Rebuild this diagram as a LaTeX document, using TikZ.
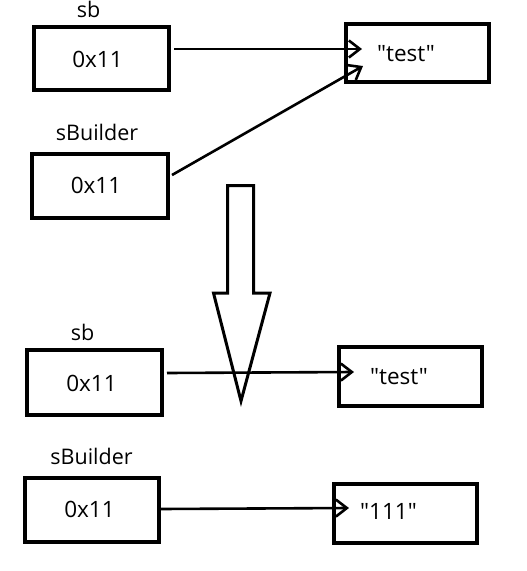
\documentclass[tikz,border=0pt]{standalone}
\usepackage{fontspec}
\setmainfont{Open Sans}[Ligatures=TeXOff]
\usetikzlibrary{arrows.meta,calc}
\begin{document}
\begin{tikzpicture}[x=1pt,y=-1pt,
  box/.style={draw,line width=4pt,inner sep=0pt,outer sep=0pt},
  txt/.style={inner sep=0pt,anchor=base,font=\fontsize{22.5}{27}\selectfont},
  lbl/.style={inner sep=0pt,anchor=base,font=\fontsize{21.5}{26}\selectfont},
  ptr/.style={line width=2.6pt,-{Straight Barb[length=11pt,width=17pt,line width=2.6pt]}},
  bigarrow/.style={draw,line width=3pt,line join=miter}]
\useasboundingbox (0,0) rectangle (527,571);
% top half
\node[box,minimum width=135pt,minimum height=63pt] (a1) at (101.5,58.5) {};
\node[box,minimum width=143pt,minimum height=58pt] (t1) at (417.5,53) {};
\node[box,minimum width=136pt,minimum height=64pt] (b1) at (100,186) {};
\node[lbl] (la1) at (88.5,17) {sb};
\node[lbl] (lb1) at (97,140) {sBuilder};
\node[txt] (xa1) at (97.5,67) {0x11};
\node[txt] (xb1) at (96,193) {0x11};
\node[txt] (xt1) at (406,61) {"test"};
\draw[ptr] ($(a1.east)+(5,-9.5)$) -- ($(t1.west)+(16,-4)$);
\draw[ptr] ($(b1.east)+(4,-11)$) -- ($(t1.west)+(17,13)$);
% big down arrow
\draw[bigarrow] (227.5,185.5) -- (253.5,185.5) -- (253.5,293) -- (270,293)
  -- (241,401) -- (213.5,293) -- (227.5,293) -- cycle;
% bottom half
\node[box,minimum width=135pt,minimum height=65pt] (a2) at (94.5,382.5) {};
\node[box,minimum width=143pt,minimum height=59pt] (t2) at (410.5,376.5) {};
\node[box,minimum width=134pt,minimum height=64pt] (b2) at (92,510) {};
\node[box,minimum width=143pt,minimum height=59pt] (t3) at (405.5,513.5) {};
\node[lbl] (la2) at (82.5,340) {sb};
\node[lbl] (lb2) at (91.5,464) {sBuilder};
\node[txt] (xa2) at (91.5,391) {0x11};
\node[txt] (xb2) at (89.5,517) {0x11};
\node[txt] (xt2) at (399,384) {"test"};
\node[txt] (xt3) at (388.5,519) {"111"};
\draw[ptr] ($(a2.east)+(5,-9.5)$) -- ($(t2.west)+(15,-4.5)$);
\draw[ptr] ($(b2.east)+(2,-1)$) -- ($(t3.west)+(15,-5.5)$);
\end{tikzpicture}
\end{document}
